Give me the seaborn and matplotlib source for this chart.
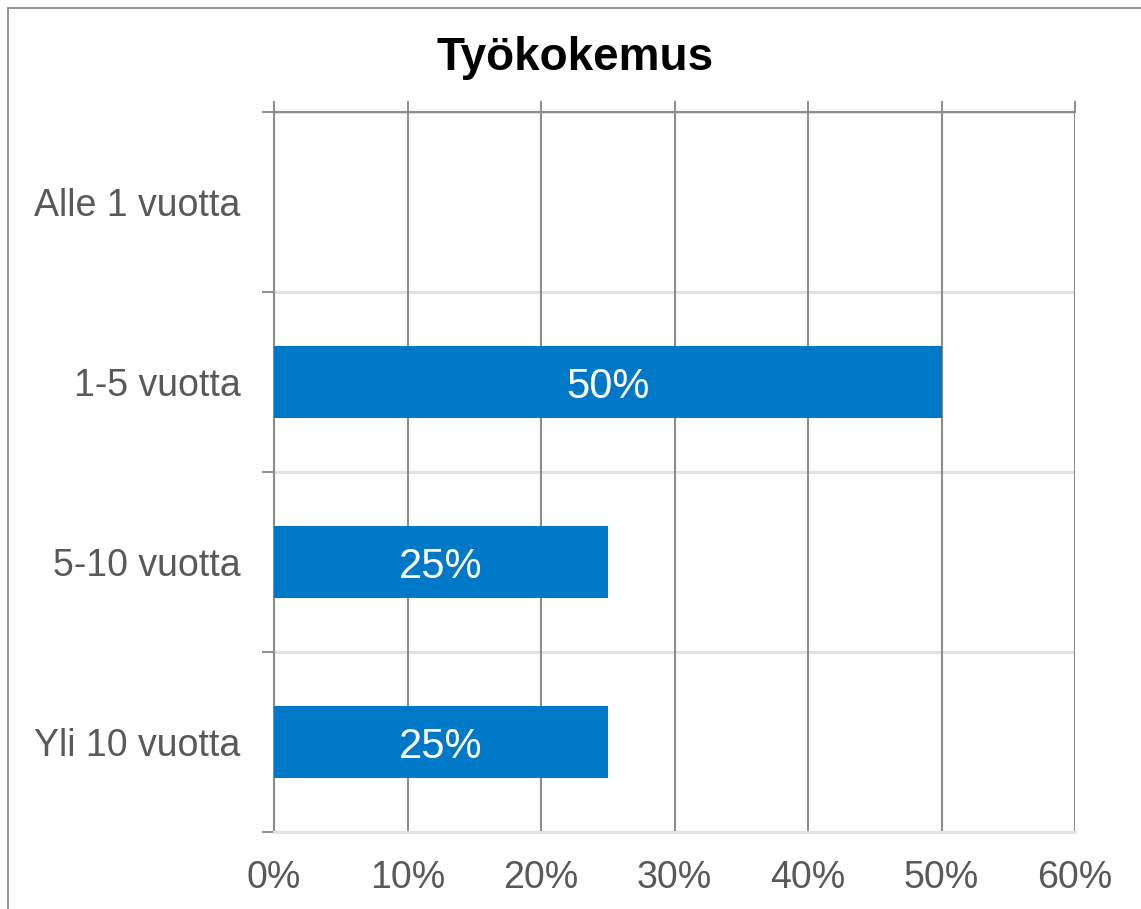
import matplotlib
matplotlib.use("Agg")
import matplotlib.pyplot as plt
import seaborn as sns
import pandas as pd
from matplotlib.patches import Rectangle
from matplotlib.ticker import FixedLocator

categories = ["Alle 1 vuotta", "1-5 vuotta", "5-10 vuotta", "Yli 10 vuotta"]
values = [0, 50, 25, 25]
x_ticks = [0, 10, 20, 30, 40, 50, 60]
x_tick_labels = ["0%", "10%", "20%", "30%", "40%", "50%", "60%"]
title = "Työkokemus"

sns.set_theme(style="white")
plt.rcParams["font.family"] = ["Liberation Sans", "DejaVu Sans"]

GRID = "#8c8c8c"
LIGHT = "#e2e2e2"
BAR = "#0078C8"
LABEL = "#595959"

W, H = 1141, 909
fig = plt.figure(figsize=(W / 100, H / 100), dpi=100)
ax = fig.add_axes([274 / W, 1 - 832 / H, (1075 - 274) / W, (832 - 112) / H])

df = pd.DataFrame({"cat": categories, "val": values})
sns.barplot(data=df, x="val", y="cat", orient="h", color=BAR, width=0.4,
            saturation=1, linewidth=0, ax=ax, zorder=3)

ax.set_xlim(0, 60)
ax.set_ylim(len(categories) - 0.5, -0.5)
ax.set_xlabel("")
ax.set_ylabel("")

ax.set_xticks(x_ticks)
ax.set_xticklabels(x_tick_labels)
ax.tick_params(axis="x", top=True, bottom=False, labeltop=False, labelbottom=True,
               direction="out", length=8, width=1.4, color=GRID,
               labelsize=27, labelcolor=LABEL, pad=12)

ax.yaxis.set_minor_locator(FixedLocator([i - 0.5 for i in range(len(categories) + 1)]))
ax.tick_params(axis="y", which="major", length=0, labelsize=27, labelcolor=LABEL, pad=24)
ax.tick_params(axis="y", which="minor", left=True, direction="out", length=8.6,
               width=1.4, color=GRID)

ax.set_axisbelow(True)
ax.xaxis.grid(True, which="major", color=GRID, linewidth=1.5)
ax.yaxis.grid(True, which="minor", color=LIGHT, linewidth=2.2)
ax.yaxis.grid(False, which="major")
ax.yaxis.set_zorder(0.4)

ax.spines["right"].set_visible(False)
ax.spines["top"].set_color(GRID)
ax.spines["top"].set_linewidth(1.5)
ax.spines["left"].set_color(GRID)
ax.spines["left"].set_linewidth(1.5)
ax.spines["bottom"].set_color(LIGHT)
ax.spines["bottom"].set_linewidth(2.2)

for container in ax.containers:
    labels = [f"{v:.0f}%" if v > 0 else "" for v in container.datavalues]
    texts = ax.bar_label(container, labels=labels, label_type="center", color="white",
                         fontsize=30, zorder=4)
    for t in texts:
        t.set_va("center_baseline")

fig.text(575 / W, 1 - 70 / H, title, ha="center", va="baseline",
         fontsize=33, fontweight="bold", color="black")

fig.patches.append(Rectangle((8 / W, -0.2), 1.5, 1 - 8 / H + 0.2,
                             transform=fig.transFigure, fill=False,
                             edgecolor=GRID, linewidth=1.3))

fig.savefig("out.png", dpi=100)
